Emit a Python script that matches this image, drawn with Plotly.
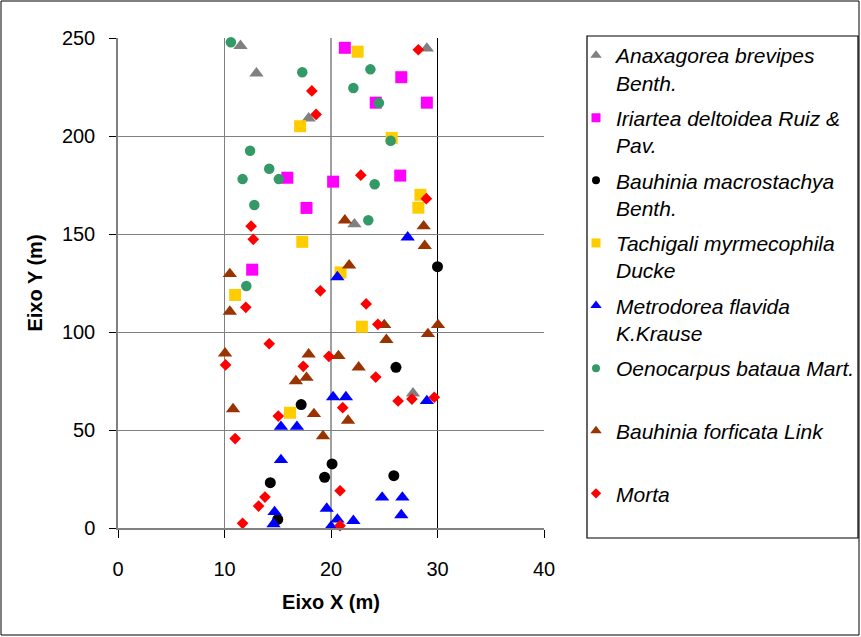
import plotly.graph_objects as go

# ---------------- data ----------------
series_names = [
    "Anaxagorea brevipes<br>Benth.",
    "Iriartea deltoidea Ruiz &<br>Pav.",
    "Bauhinia macrostachya<br>Benth.",
    "Tachigali myrmecophila<br>Ducke",
    "Metrodorea flavida<br>K.Krause",
    "Oenocarpus bataua Mart.<br> ",
    "Bauhinia forficata Link<br> ",
    "Morta<br> ",
]

anax_x = [11.5, 13.0, 17.9, 29.0, 22.2, 27.7]
anax_y = [246, 232, 209, 244.7, 155, 68.7]

iri_x = [21.3, 26.6, 24.2, 29.0, 15.9, 20.2, 26.5, 17.7, 12.6]
iri_y = [245, 230, 217, 217, 178.7, 176.7, 179.8, 163.3, 131.8]

bmac_x = [30.0, 26.1, 17.2, 20.1, 19.4, 25.9, 14.3, 15.0]
bmac_y = [133.3, 82, 63, 32.7, 25.9, 26.7, 23.1, 4.4]

tach_x = [22.5, 17.1, 25.7, 28.4, 28.2, 17.3, 20.9, 11.0, 22.9, 16.15]
tach_y = [243, 205, 199, 170, 163.4, 146, 130.4, 118.9, 102.7, 58.8]

metr_x = [27.2, 20.6, 20.2, 21.4, 29.0, 15.3, 16.8, 15.3, 24.8, 26.7, 26.6, 19.6, 14.7, 14.6, 20.6, 20.0, 22.1]
metr_y = [148.3, 128, 66.8, 66.8, 64.8, 51.7, 51.7, 34.7, 15.6, 15.6, 6.6, 9.9, 8.2, 2.0, 4.4, 0.7, 3.7]

oeno_x = [10.6, 17.3, 21.7, 23.7, 22.1, 24.5, 25.6, 12.4, 14.2, 11.7, 15.1, 24.1, 12.8, 23.5, 12.05]
oeno_y = [247.8, 232.5, 250.4, 234, 224.5, 216.8, 197.6, 192.5, 183.3, 178, 178, 175.4, 164.8, 157, 123.5]

bfor_x = [21.3, 28.7, 28.8, 21.7, 10.5, 10.5, 25.0, 30.05, 29.1, 25.2, 10.05, 17.9, 20.7, 22.6, 16.7, 17.7, 10.8, 18.4, 21.6, 19.25]
bfor_y = [157, 154, 144, 134, 129.6, 110.4, 103.6, 103.6, 99, 96, 89.1, 88.6, 87.8, 82, 75, 76.7, 60.7, 58.2, 54.8, 46.9]

morta_x = [18.2, 18.6, 28.2, 22.8, 28.95, 12.5, 12.7, 19.0, 12.0, 23.3, 24.4, 14.2, 10.1, 19.8, 17.4, 24.2,
           26.3, 27.6, 29.7, 15.05, 21.1, 11.0, 20.85, 13.8, 13.2, 11.7, 20.85]
morta_y = [223, 211, 244, 180, 168, 154, 147.3, 121, 112.6, 114.3, 103.9, 94, 83.2, 87.6, 82.5, 77,
           64.8, 65.8, 66.7, 57.1, 61.4, 45.6, 19, 15.8, 11.2, 2.4, 1.2]

x_ticks = [0, 10, 20, 30, 40]
y_ticks = [0, 50, 100, 150, 200, 250]
grid_x = [10, 20, 30]

# ---------------- styles ----------------
xs = [anax_x, iri_x, bmac_x, tach_x, metr_x, oeno_x, bfor_x, morta_x]
ys = [anax_y, iri_y, bmac_y, tach_y, metr_y, oeno_y, bfor_y, morta_y]
colors = ["#808080", "#FF00FF", "#000000", "#FFCC00", "#0000FF", "#339966", "#993300", "#FF0000"]
symbols = ["triangle-up", "square", "circle", "square", "triangle-up", "circle", "triangle-up", "diamond"]
sizes = [12.5, 12, 11, 12, 12.5, 10.5, 12.5, 9]
leg_sizes = [10, 9, 8, 9, 10, 8, 10, 8]

FONT = "Liberation Sans, Arial, sans-serif"

fig = go.Figure()
for i in range(len(xs)):
    fig.add_trace(go.Scatter(
        x=xs[i], y=ys[i], mode="markers", name=series_names[i],
        marker=dict(color=colors[i], symbol=symbols[i], size=sizes[i], line=dict(width=0)),
        cliponaxis=False, showlegend=False, legendgroup=f"g{i}",
    ))
for i in range(len(xs)):
    fig.add_trace(go.Scatter(
        x=[None], y=[None], mode="markers", name=series_names[i],
        marker=dict(color=colors[i], symbol=symbols[i], size=leg_sizes[i], line=dict(width=0)),
        showlegend=True, legendgroup=f"g{i}",
    ))

# plot area: px x 118..544, y 38..528
L, R, T, B = 118, 544, 38, 528
W, H = 861, 637
def px2paper_x(px):
    return (px - L) / (R - L)
def px2paper_y(py):
    return (B - py) / (B - T)

shapes = []
grid_colors = ["#808080", "#404040", "#000000"]
for gx, gc in zip(grid_x, grid_colors):
    shapes.append(dict(type="line", xref="x", yref="y", x0=gx, x1=gx, y0=0, y1=y_ticks[-1],
                       line=dict(color=gc, width=1), layer="below"))
# legend box
shapes.append(dict(type="rect", xref="paper", yref="paper",
                   x0=px2paper_x(587), x1=px2paper_x(858), y0=px2paper_y(538), y1=px2paper_y(36),
                   line=dict(color="#000000", width=1.2), fillcolor="rgba(0,0,0,0)"))
# outer chart frame
shapes.append(dict(type="rect", xref="paper", yref="paper",
                   x0=px2paper_x(1), x1=px2paper_x(859), y0=px2paper_y(635), y1=px2paper_y(1),
                   line=dict(color="#000000", width=1), fillcolor="rgba(0,0,0,0)"))

fig.update_layout(
    width=W, height=H,
    margin=dict(l=L, r=W - R, t=T, b=H - B, autoexpand=False),
    paper_bgcolor="white", plot_bgcolor="white",
    font=dict(family=FONT, color="#000000", size=20),
    shapes=shapes,
    showlegend=True,
    legend=dict(
        x=px2paper_x(576), y=px2paper_y(35), xanchor="left", yanchor="top",
        font=dict(family=FONT, size=21, color="#000000", style="italic"),
        valign="top", tracegroupgap=5, bgcolor="rgba(0,0,0,0)", borderwidth=0,
        itemsizing="trace", maxheight=580,
    ),
    xaxis=dict(
        range=[x_ticks[0], x_ticks[-1]], tickvals=x_ticks, showgrid=False, zeroline=False,
        showline=True, linecolor="#808080", linewidth=1.5,
        ticks="outside", ticklen=8, tickcolor="#000000", tickwidth=1,
        tickfont=dict(size=20), ticklabelstandoff=14,
        title=dict(text="<b>Eixo X (m)</b>", font=dict(size=20), standoff=16),
        fixedrange=True,
    ),
    yaxis=dict(
        range=[y_ticks[0], y_ticks[-1]], tickvals=y_ticks, showgrid=True, gridcolor="#808080", gridwidth=1,
        zeroline=False, showline=True, linecolor="#808080", linewidth=1.5,
        ticks="outside", ticklen=7, tickcolor="#000000", tickwidth=1,
        tickfont=dict(size=20), ticklabelstandoff=10,
        title=dict(text="<b>Eixo Y (m)</b>", font=dict(size=20), standoff=14),
        fixedrange=True,
    ),
)

fig.write_html("out.html")
